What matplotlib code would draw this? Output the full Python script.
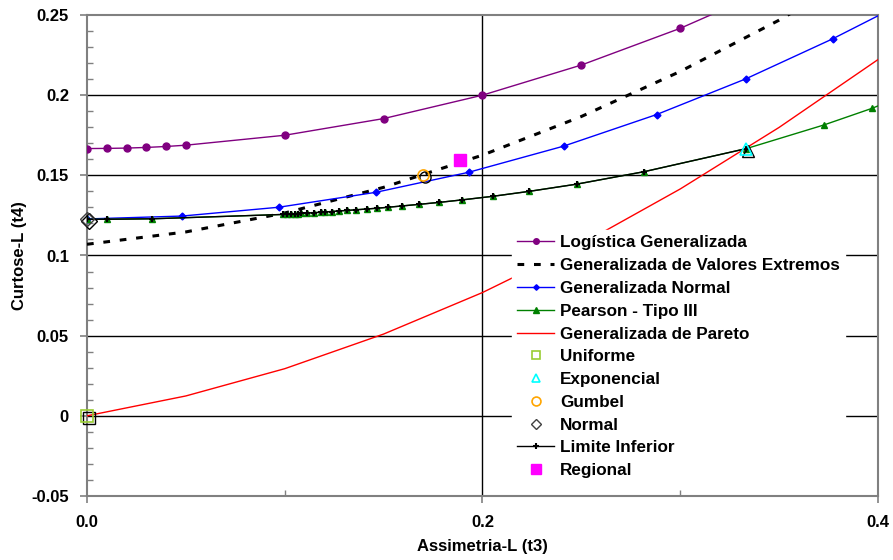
import numpy as np
import matplotlib
matplotlib.use("Agg")
import matplotlib.pyplot as plt
import matplotlib.transforms as mtransforms
from matplotlib.ticker import FixedLocator, FuncFormatter

plt.rcParams['font.family'] = ['Liberation Sans', 'DejaVu Sans']

# Logistica Generalizada (pontos com marcador)
glo_t3 = [0.0, 0.01, 0.02, 0.03, 0.04, 0.05, 0.10, 0.15, 0.20, 0.25, 0.30, 0.35]
glo_t4 = [0.1667, 0.1668, 0.1670, 0.1674, 0.1680, 0.1688, 0.1750, 0.1854, 0.2000, 0.2188, 0.2417, 0.2688]

# Generalizada de Valores Extremos
gev_t3 = [0.0, 0.05, 0.10, 0.15, 0.20, 0.25, 0.30, 0.35, 0.40]
gev_t4 = [0.1070, 0.1147, 0.1265, 0.1425, 0.1626, 0.1867, 0.2148, 0.2468, 0.2830]

# Generalizada Normal
gno_t3 = [0.0, 0.048, 0.097, 0.146, 0.193, 0.241, 0.288, 0.333, 0.377, 0.40]
gno_t4 = [0.1228, 0.1246, 0.1301, 0.1394, 0.1519, 0.1682, 0.1879, 0.2101, 0.2351, 0.2495]

# Pearson - Tipo III
pe3_t3 = [0.0, 0.01, 0.033, 0.099, 0.101, 0.103, 0.105, 0.1066, 0.1083, 0.1113, 0.1149,
          0.1183, 0.1203, 0.1237, 0.1276, 0.1313, 0.136, 0.1414, 0.1468, 0.1523, 0.1593,
          0.1679, 0.1779, 0.1898, 0.2051, 0.2236, 0.2476, 0.2818, 0.3335, 0.3726, 0.397, 0.40]
pe3_t4 = [0.1226, 0.1226, 0.1229, 0.1256, 0.1258, 0.1259, 0.1260, 0.1261, 0.1263, 0.1265, 0.1267,
          0.1270, 0.1272, 0.1274, 0.1278, 0.1281, 0.1285, 0.1290, 0.1295, 0.1301, 0.1309,
          0.1319, 0.1331, 0.1347, 0.1369, 0.1400, 0.1445, 0.1523, 0.1667, 0.1814, 0.1918, 0.1933]

# Limite Inferior
lim_t3 = [0.0, 0.01, 0.033, 0.099, 0.101, 0.103, 0.105, 0.1066, 0.1083, 0.1113, 0.1149,
          0.1183, 0.1203, 0.1237, 0.1276, 0.1313, 0.136, 0.1414, 0.1468, 0.1523, 0.1593,
          0.1679, 0.1779, 0.1898, 0.2051, 0.2236, 0.2476, 0.2818, 0.3335]
lim_t4 = [0.1226, 0.1226, 0.1229, 0.1256, 0.1258, 0.1259, 0.1260, 0.1261, 0.1263, 0.1265, 0.1267,
          0.1270, 0.1272, 0.1274, 0.1278, 0.1281, 0.1285, 0.1290, 0.1295, 0.1301, 0.1309,
          0.1319, 0.1331, 0.1347, 0.1369, 0.1400, 0.1445, 0.1523, 0.1667]

# Generalizada de Pareto
gpa_t3 = [0.0, 0.05, 0.10, 0.15, 0.20, 0.25, 0.30, 0.35, 0.40]
gpa_t4 = [0.0, 0.0124, 0.0294, 0.0510, 0.0769, 0.1071, 0.1415, 0.1799, 0.2222]

# distribuicoes de dois parametros e ponto regional
uni = (0.0, 0.0)
exp_ = (0.3333, 0.1667)
gum = (0.1699, 0.1504)
nor = (0.0, 0.1226)
regional = (0.1887, 0.1594)

fig = plt.figure(figsize=(8.93, 5.6), dpi=100)
ax = fig.add_axes([0.0974, 0.1143, 0.8858, 0.8589])

for y in [0.0, 0.05, 0.10, 0.15, 0.20]:
    ax.axhline(y, color="black", lw=1.0, zorder=1)
ax.axvline(0.2, color="black", lw=1.0, zorder=1)

ax.plot(gpa_t3, gpa_t4, color="#ff0000", lw=1.0, label="Generalizada de Pareto", zorder=3)
ax.plot(gev_t3, gev_t4, color="black", lw=2.2, ls=(0, (2.2, 3.2)),
        label="Generalizada de Valores Extremos", zorder=3)
ax.plot(glo_t3, glo_t4, color="#800080", lw=1.0, marker="o", ms=5,
        label="Logística Generalizada", zorder=4)
ax.plot(gno_t3, gno_t4, color="#0000ff", lw=1.0, marker="D", ms=3.5,
        markevery=list(range(len(gno_t3) - 1)), label="Generalizada Normal", zorder=4)
ax.plot(pe3_t3, pe3_t4, color="#008000", lw=1.0, marker="^", ms=5,
        markevery=list(range(len(pe3_t3) - 1)), label="Pearson - Tipo III", zorder=4)
ax.plot(lim_t3, lim_t4, color="black", lw=1.0, marker="+", ms=5, mew=1.5,
        label="Limite Inferior", zorder=5)

# sombras pretas dos pontos
shadow = mtransforms.offset_copy(ax.transData, fig=fig, x=2, y=-2, units="dots")
for pt, m in [(uni, "s"), (exp_, "^"), (gum, "o"), (nor, "D")]:
    ax.plot([pt[0]], [pt[1]], ls="none", marker=m, ms=8, mfc="none", mec="black",
            mew=1.0, transform=shadow, zorder=5, clip_on=False)

ax.plot([uni[0]], [uni[1]], ls="none", marker="s", ms=8, mfc="none", mec="#9acd32",
        mew=1.2, label="Uniforme", zorder=6, clip_on=False)
ax.plot([exp_[0]], [exp_[1]], ls="none", marker="^", ms=8, mfc="none", mec="#00ffff",
        mew=1.2, label="Exponencial", zorder=6)
ax.plot([gum[0]], [gum[1]], ls="none", marker="o", ms=8, mfc="none", mec="#ffa500",
        mew=1.2, label="Gumbel", zorder=6)
ax.plot([nor[0]], [nor[1]], ls="none", marker="D", ms=7, mfc="none", mec="#404040",
        mew=1.0, label="Normal", zorder=6, clip_on=False)
ax.plot([regional[0]], [regional[1]], ls="none", marker="s", ms=9, color="#ff00ff",
        label="Regional", zorder=6)

ax.set_xlim(0, 0.4)
ax.set_ylim(-0.05, 0.25)

for s in ax.spines.values():
    s.set_color("#808080")
    s.set_linewidth(1.5)

ax.xaxis.set_major_locator(FixedLocator([0.0, 0.2, 0.4]))
ax.xaxis.set_minor_locator(FixedLocator([0.1, 0.3]))
ax.yaxis.set_major_locator(FixedLocator(np.arange(-0.05, 0.26, 0.05)))
ax.yaxis.set_minor_locator(FixedLocator(np.arange(-0.04, 0.25, 0.01)))
ax.xaxis.set_major_formatter(FuncFormatter(lambda v, p: "%.1f" % v))
ax.yaxis.set_major_formatter(FuncFormatter(lambda v, p: ("%.2f" % v).rstrip("0").rstrip(".")
                                           if abs(v) > 1e-9 else "0"))
ax.tick_params(which="major", direction="out", length=5, color="#808080", width=1.2,
               labelsize=12)
ax.tick_params(which="minor", direction="in", length=4, color="#808080", width=1.0)
ax.tick_params(axis="x", which="major", pad=9)
ax.tick_params(axis="y", which="major", pad=8)
for lab in ax.get_xticklabels() + ax.get_yticklabels():
    lab.set_fontweight("bold")

ax.set_xlabel("Assimetria-L (t3)", fontsize=12, fontweight="bold", labelpad=6)
ax.set_ylabel("Curtose-L (t4)", fontsize=12, fontweight="bold", labelpad=3)

order = ["Logística Generalizada", "Generalizada de Valores Extremos", "Generalizada Normal",
         "Pearson - Tipo III", "Generalizada de Pareto", "Uniforme", "Exponencial", "Gumbel",
         "Normal", "Limite Inferior", "Regional"]
handles, labels = ax.get_legend_handles_labels()
hmap = dict(zip(labels, handles))
leg = ax.legend([hmap[k] for k in order], order, loc="upper left",
                bbox_to_anchor=(0.5635, 0.604), bbox_transform=fig.transFigure,
                frameon=True, framealpha=1.0, edgecolor="white", fancybox=False,
                prop={"weight": "bold", "size": 12.3}, handlelength=2.2, handletextpad=0.33,
                labelspacing=0.455, borderpad=0.3, markerscale=0.8)
leg.set_zorder(10)

fig.savefig("out.png", dpi=100)
